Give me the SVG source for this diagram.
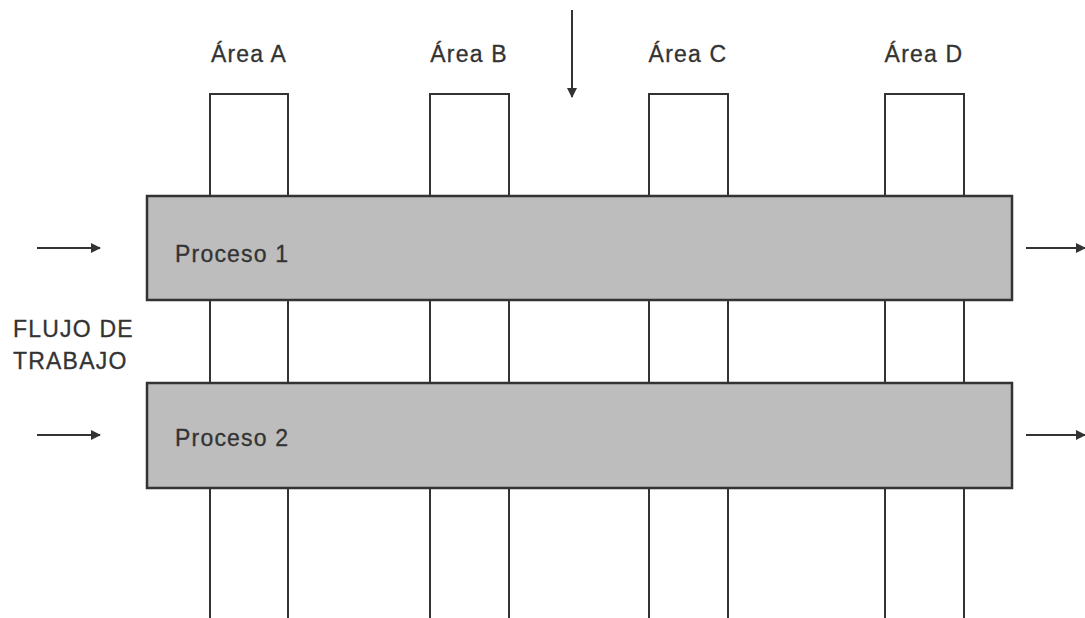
<svg xmlns="http://www.w3.org/2000/svg" width="1085" height="618" viewBox="0 0 1085 618">
  <style>
    .col { fill: #ffffff; stroke: #333333; stroke-width: 2; }
    .proc { fill: #bdbdbd; stroke: #333333; stroke-width: 2.5; }
    .lbl { font-family: "Liberation Sans", Arial, sans-serif; font-size: 23px; fill: #333333; letter-spacing: 1.2px; stroke: #333333; stroke-width: 0.3; }
    .mid { text-anchor: middle; }
    .flow { stroke: #333333; stroke-width: 2; fill: none; marker-end: url(#head); }
  </style>
  <defs>
    <marker id="head" viewBox="0 0 10 10" refX="9" refY="5" markerWidth="5" markerHeight="5" orient="auto" markerUnits="strokeWidth">
      <path d="M0,0 L10,5 L0,10 z" fill="#333333"/>
    </marker>
  </defs>

  <!-- vertical area columns (drawn beneath the process bands) -->
  <g id="area-a">
    <rect class="col" x="210" y="94" width="78" height="530"/>
    <text class="lbl mid" x="249" y="62">Área A</text>
  </g>
  <g id="area-b">
    <rect class="col" x="430" y="94" width="79" height="530"/>
    <text class="lbl mid" x="469" y="62">Área B</text>
  </g>
  <g id="area-c">
    <rect class="col" x="649" y="94" width="79" height="530"/>
    <text class="lbl mid" x="688" y="62">Área C</text>
  </g>
  <g id="area-d">
    <rect class="col" x="885" y="94" width="79" height="530"/>
    <text class="lbl mid" x="924" y="62">Área D</text>
  </g>

  <!-- horizontal process bands -->
  <g id="proceso-1">
    <rect class="proc" x="147" y="196" width="865" height="104"/>
    <text class="lbl" x="175" y="262">Proceso 1</text>
  </g>
  <g id="proceso-2">
    <rect class="proc" x="147" y="383" width="865" height="105"/>
    <text class="lbl" x="175" y="446">Proceso 2</text>
  </g>

  <g id="flujo-label">
    <text class="lbl" x="13" y="337">FLUJO DE</text>
    <text class="lbl" x="13" y="369">TRABAJO</text>
  </g>

  <!-- connectors -->
  <g id="connectors">
    <line class="flow" x1="572" y1="10" x2="572" y2="97"/>
    <line class="flow" x1="37" y1="248" x2="100" y2="248"/>
    <line class="flow" x1="37" y1="435" x2="100" y2="435"/>
    <line class="flow" x1="1026" y1="248" x2="1085" y2="248"/>
    <line class="flow" x1="1026" y1="435" x2="1085" y2="435"/>
  </g>
</svg>
